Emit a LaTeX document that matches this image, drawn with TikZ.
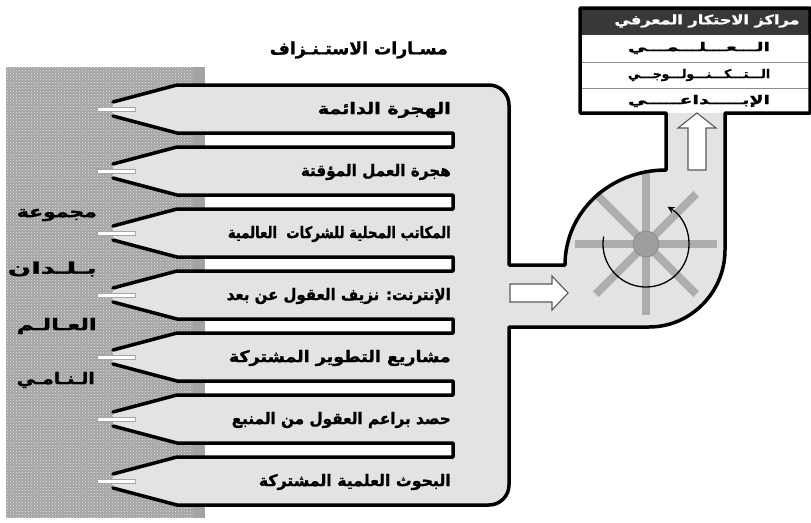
\documentclass[tikz,border=0pt]{standalone}
\usepackage{graphicx}
\usepackage{fontspec}
\newfontfamily\arabicfont[Script=Arabic, BoldFont=DejaVu Sans Bold, BoldFeatures={FakeBold=1.3}]{DejaVu Sans}
\TeXXeTstate=1
\usetikzlibrary{patterns,arrows.meta,calc}
\newcommand\fitar[2]{\resizebox{#1}{\height}{\arabicfont\bfseries #2}}
\tikzset{
  outline/.style={line width=3.5pt, line join=round, line cap=round, draw=black},
  bodyfill/.style={fill=black!11},
  spoke/.style={line width=8pt, draw=black!32},
  lab/.style={inner sep=0pt, font=\fontsize{16}{19}\selectfont, text=black, anchor=east},
  side/.style={inner sep=0pt, font=\fontsize{16}{19}\selectfont, text=black, anchor=east},
  rowtxt/.style={inner sep=0pt, font=\fontsize{12}{14}\selectfont, text=black},
  spike/.style={fill=white, draw=black!35, line width=0.6pt},
  hollow/.style={fill=white, draw=black!65, line width=1.1pt, line join=miter},
}
\begin{document}
\begin{tikzpicture}[x=1pt,y=-1pt]
\useasboundingbox (0,0) rectangle (811,522);
% texture
\fill[black!36] (6,67) rectangle (205,518);
\fill[pattern=crosshatch dots, pattern color=black!10] (6,67) rectangle (193,518);
% table background
\fill[white] (580,8) rectangle (810,113);
\fill[black!78] (580,8) rectangle (810,35);
\draw[black!45, line width=0.8pt] (580,62) -- (810,62) (580,88) -- (810,88);
% body fill
\fill[bodyfill] (177,85) -- (489,85) .. controls (500,85) and (509,94) .. (509,105)
  -- (509,265) -- (565,265) .. controls (565,212) and (610,170) .. (666,170)
  -- (666,113) -- (725,113) -- (725,250) .. controls (725,292) and (691,327) .. (649,327)
  -- (509,327) -- (509,485) .. controls (509,496) and (500,505) .. (489,505)
  -- (177,505) -- (113,488) -- (113,474) -- (177,457) -- (453,457) -- (453,443)
  -- (177,443) -- (113,426) -- (113,412) -- (177,395) -- (453,395) -- (453,381)
  -- (177,381) -- (113,364) -- (113,350) -- (177,333) -- (453,333) -- (453,319)
  -- (177,319) -- (113,302) -- (113,288) -- (177,271) -- (453,271) -- (453,257)
  -- (177,257) -- (113,240) -- (113,226) -- (177,209) -- (453,209) -- (453,195)
  -- (177,195) -- (113,178) -- (113,164) -- (177,147) -- (453,147) -- (453,133)
  -- (177,133) -- (113,116) -- (113,102) -- cycle;
% fan
\coordinate (c) at (646,244);
\foreach \a in {0,45,90,135} {
  \draw[spoke] ($(c)+(\a:71pt)$) -- ($(c)+(\a+180:71pt)$);
}
\fill[black!38] (c) circle (13pt);
\draw[black!45, line width=0.8pt] (c) circle (13pt);
\draw[line width=1.3pt, -{Stealth[length=7pt,width=7pt]}] ($(c)+(170:43pt)$) arc[start angle=170, end angle=420, radius=43pt];
% arrows
\draw[hollow] (688,170) -- (688,128) -- (678,128) -- (697,113) -- (716,128) -- (706,128) -- (706,170) -- cycle;
\draw[hollow] (510,284) -- (552,284) -- (552,276) -- (568,293) -- (552,310) -- (552,302) -- (510,302) -- cycle;
% outlines
\draw[outline] (113,102) -- (177,85) -- (489,85) .. controls (500,85) and (509,94) .. (509,105)
  -- (509,265) -- (565,265) .. controls (565,212) and (610,170) .. (666,170)
  -- (666,113) -- (580,113) -- (580,8) -- (810,8) -- (810,113) -- (725,113)
  -- (725,250) .. controls (725,292) and (691,327) .. (649,327)
  -- (509,327) -- (509,485) .. controls (509,496) and (500,505) .. (489,505)
  -- (177,505) -- (113,488);
\draw[outline] (113,116)--(177,133)--(453,133)--(453,147)--(177,147)--(113,164);
\draw[outline] (113,178)--(177,195)--(453,195)--(453,209)--(177,209)--(113,226);
\draw[outline] (113,240)--(177,257)--(453,257)--(453,271)--(177,271)--(113,288);
\draw[outline] (113,302)--(177,319)--(453,319)--(453,333)--(177,333)--(113,350);
\draw[outline] (113,364)--(177,381)--(453,381)--(453,395)--(177,395)--(113,412);
\draw[outline] (113,426)--(177,443)--(453,443)--(453,457)--(177,457)--(113,474);
% spikes
\foreach \y in {109,171,233,295,357,419,481} {
  \draw[spike] (97,\y-2) rectangle (135,\y+2);
}
% texts
\node[lab, font=\fontsize{17}{20}\selectfont] (title) at (448,50) {\fitar{178pt}{\beginR مسـارات الاستـنـزاف\endR}};
\node[lab] (l1) at (451,110) {\fitar{133pt}{\beginR الهجرة الدائمة\endR}};
\node[lab] (l2) at (451,172) {\fitar{150pt}{\beginR هجرة العمل المؤقتة\endR}};
\node[lab] (l3) at (451,234) {\fitar{223pt}{\beginR المكاتب المحلية للشركات~ العالمية\endR}};
\node[lab] (l4) at (451,296) {\fitar{224pt}{\beginR الإنترنت: نزيف العقول عن بعد\endR}};
\node[lab] (l5) at (451,358) {\fitar{222pt}{\beginR مشاريع التطوير المشتركة\endR}};
\node[lab] (l6) at (451,420) {\fitar{219pt}{\beginR حصد براعم العقول من المنبع\endR}};
\node[lab] (l7) at (451,482) {\fitar{192pt}{\beginR البحوث العلمية المشتركة\endR}};
\node[side] (s1) at (97,215) {\fitar{80pt}{\beginR مجموعة\endR}};
\node[side] (s2) at (97,269) {\fitar{89pt}{\beginR بـلـدان\endR}};
\node[side] (s3) at (97,326) {\fitar{80pt}{\beginR العـالـم\endR}};
\node[side] (s4) at (95,380) {\fitar{78pt}{\beginR الـنـامـي\endR}};
\node[rowtxt, text=white, font=\fontsize{13}{15}\selectfont] (t0) at (707,21) {\fitar{185pt}{\beginR مراكز الاحتكار المعرفي\endR}};
\node[rowtxt] (t1) at (699,48) {\fitar{142pt}{\beginR الـــعـــلـــمـــي\endR}};
\node[rowtxt] (t2) at (699,75) {\fitar{142pt}{\beginR الـــتـــكـــنـــولـــوجـــي\endR}};
\node[rowtxt] (t3) at (699,101) {\fitar{142pt}{\beginR الإبـــــداعـــــي\endR}};
\end{tikzpicture}
\end{document}
